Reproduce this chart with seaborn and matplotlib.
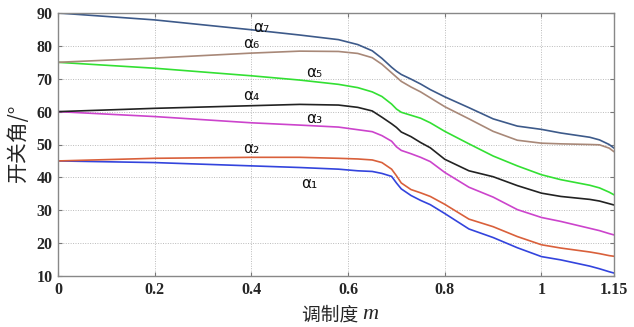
import numpy as np
import pandas as pd
import matplotlib
matplotlib.use("Agg")
import matplotlib.pyplot as plt
import seaborn as sns

# modulation index grid and switching angles
m_values = [0, 0.2, 0.4, 0.5, 0.58, 0.62, 0.65, 0.67, 0.69, 0.7, 0.71, 0.73,
            0.75, 0.77, 0.8, 0.85, 0.9, 0.95, 1.0, 1.04, 1.1, 1.12, 1.14, 1.15]

alpha1 = [45, 44.5, 43.5, 43, 42.5, 42, 41.8, 41.2, 40.3, 38.3, 36.5, 34.5,
          33, 31.7, 29, 24.3, 21.7, 18.6, 15.9, 14.9, 13, 12.2, 11.3, 10.9]
alpha2 = [45, 45.8, 46.1, 46.1, 45.8, 45.6, 45.3, 44.5, 42.5, 40.5, 38.3, 36.3,
          35.3, 34.2, 31.8, 27.3, 25, 22, 19.5, 18.5, 17.3, 16.8, 16.2, 16]
alpha3 = [60, 58.5, 56.6, 55.9, 55.3, 54.5, 53.9, 52.7, 51, 49.3, 48.2, 47.2,
          46.1, 44.8, 41.5, 37, 34, 30.2, 27.8, 26.6, 24.5, 23.8, 22.9, 22.5]
alpha4 = [60, 61, 61.8, 62.2, 62, 61.3, 60.2, 58.3, 56.3, 55.2, 53.8, 52.4,
          50.6, 49, 45.5, 42, 40.2, 37.5, 35.2, 34.2, 33.3, 32.8, 32, 31.6]
alpha5 = [75, 73.2, 70.9, 69.6, 68.3, 67.3, 66, 64.6, 62.3, 60.8, 59.8, 58.9,
          58, 56.6, 54, 50.2, 46.5, 43.5, 40.8, 39.3, 37.6, 36.8, 35.5, 34.7]
alpha6 = [75, 76.3, 77.8, 78.4, 78.3, 77.7, 76.4, 74.4, 71.8, 70.5, 69.2, 67.5,
          66, 64.2, 61.5, 57.8, 54, 51.3, 50.4, 50.2, 50, 49.9, 48.9, 47.8]
alpha7 = [90, 87.9, 84.9, 83.3, 81.9, 80.4, 78.5, 76.2, 73.5, 72.3, 71.3, 69.9,
          68.4, 66.7, 64.5, 61.2, 57.8, 55.6, 54.6, 53.5, 52.2, 51.4, 50, 48.9]

series_names = ["α₁", "α₂", "α₃", "α₄", "α₅", "α₆", "α₇"]
series_values = [alpha1, alpha2, alpha3, alpha4, alpha5, alpha6, alpha7]
series_colors = ["#3344dd", "#d9603b", "#cc44cc", "#222222",
                 "#33e033", "#a88878", "#3d5a8a"]

# label anchor (m, angle) for each curve
label_m = [0.52, 0.40, 0.53, 0.40, 0.53, 0.40, 0.42]
label_y = [38, 48.7, 58, 64.8, 72, 80.6, 85.7]

xticks = [0, 0.2, 0.4, 0.6, 0.8, 1, 1.15]
xtick_labels = ["0", "0.2", "0.4", "0.6", "0.8", "1", "1.15"]
yticks = [10, 20, 30, 40, 50, 60, 70, 80, 90]

frames = []
for name, vals in zip(series_names, series_values):
    assert len(vals) == len(m_values)
    frames.append(pd.DataFrame({"m": m_values, "angle": vals, "series": name}))
df = pd.concat(frames, ignore_index=True)

sns.set_style("white")
plt.rcParams["font.family"] = ["DejaVu Sans"]

fig = plt.figure(figsize=(6.34, 3.27), dpi=100)
ax = fig.add_axes([58 / 634, 1 - 276 / 327, 556 / 634, 263 / 327])

sns.lineplot(data=df, x="m", y="angle", hue="series",
             palette=dict(zip(series_names, series_colors)),
             linewidth=1.2, legend=False, ax=ax)

for name, lx, ly in zip(series_names, label_m, label_y):
    ax.text(lx, ly, name, fontsize=11, ha="center", va="center",
            family=["DejaVu Sans"], color="#111111")

ax.set_xlim(0, 1.15)
ax.set_ylim(10, 90)
ax.set_xticks(xticks)
ax.set_xticklabels(xtick_labels)
ax.set_yticks(yticks)
ax.grid(True, linestyle=(0, (1, 1.5)), color="#bbbbbb", linewidth=0.7)
ax.tick_params(direction="in", length=3, color="#777777",
               top=True, right=True, bottom=True, left=True, pad=4)
for lab in ax.get_xticklabels() + ax.get_yticklabels():
    lab.set_fontfamily("Liberation Serif")
    lab.set_fontweight("bold")
    lab.set_fontsize(11.5)
for sp in ax.spines.values():
    sp.set_color("#888888")
    sp.set_linewidth(1.0)

ax.set_xlabel("")
ax.set_ylabel("")
fig.text(0.571, 0.037, "调制度 ", fontsize=13.5, ha="right", va="center",
         family=["Noto Sans CJK SC", "DejaVu Sans"])
fig.text(0.571, 0.037, "m", fontsize=16, ha="left", va="center",
         family="Liberation Serif", style="italic")
fig.text(0.028, 0.563, "开关角/°", fontsize=15, ha="center", va="center",
         rotation=90, family=["Noto Sans CJK SC", "DejaVu Sans"])

fig.savefig("out.png", dpi=100)
